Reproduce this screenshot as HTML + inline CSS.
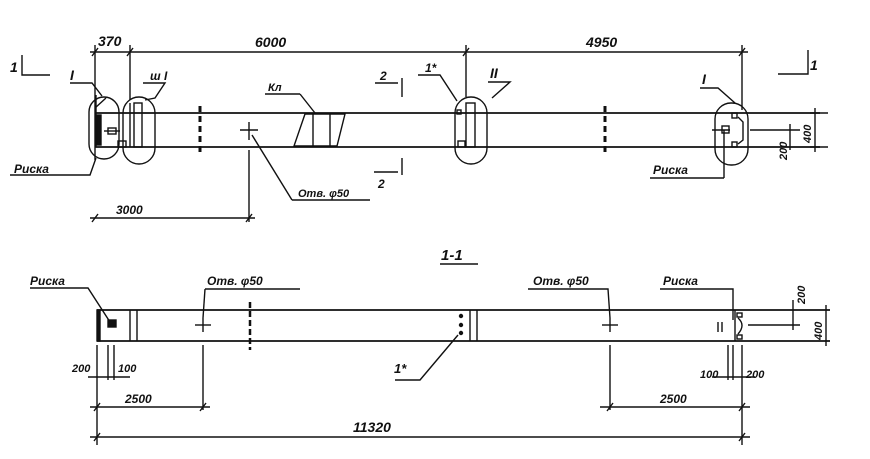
<!DOCTYPE html>
<html><head><meta charset="utf-8"><style>
html,body{margin:0;padding:0;background:#fff}
svg{display:block}
text{font-family:"Liberation Sans",sans-serif;font-weight:bold;font-style:italic;fill:#111}
</style></head><body>
<svg width="870" height="459" viewBox="0 0 870 459" xmlns="http://www.w3.org/2000/svg">
<g stroke="#111" stroke-width="1.4" fill="none">
<!-- TOP VIEW -->
<line x1="95" y1="113" x2="820" y2="113" stroke-width="1.8"/>
<line x1="95" y1="147" x2="820" y2="147" stroke-width="1.8"/>
<line x1="96" y1="95" x2="96" y2="147"/>
<!-- dimension line top -->
<line x1="90" y1="52" x2="748" y2="52"/>
<line x1="95" y1="45" x2="95" y2="160"/>
<line x1="130" y1="45" x2="130" y2="100"/>
<line x1="466" y1="45" x2="466" y2="97"/>
<line x1="742" y1="45" x2="742" y2="110"/>
<line x1="92" y1="56" x2="98" y2="48"/><line x1="127" y1="56" x2="133" y2="48"/>
<line x1="463" y1="56" x2="469" y2="48"/><line x1="739" y1="56" x2="745" y2="48"/>
<!-- section 1 marks -->
<polyline points="22,55 22,75 50,75"/>
<polyline points="808,50 808,74 778,74"/>
<!-- capsules -->
<rect x="89" y="97" width="30" height="62" rx="15"/>
<rect x="123" y="97" width="32" height="67" rx="16"/>
<rect x="455" y="97" width="32" height="67" rx="16"/>
<rect x="715" y="103" width="33" height="62" rx="16"/>
<!-- left end internals -->
<rect x="97" y="115" width="4" height="30" fill="#111"/>
<line x1="104" y1="131" x2="120" y2="131"/>
<rect x="108" y="128" width="8" height="6"/>
<rect x="118" y="141" width="8" height="6"/>
<line x1="130" y1="103" x2="130" y2="147"/>
<rect x="134" y="103" width="8" height="44"/>
<line x1="95" y1="108" x2="106" y2="98"/>
<!-- middle capsule internals -->
<rect x="466" y="103" width="9" height="44"/>
<rect x="457" y="110" width="4" height="4"/>
<rect x="458" y="141" width="7" height="6"/>
<!-- right capsule internals -->
<rect x="732" y="113" width="5" height="5"/><rect x="732" y="142" width="5" height="5"/>
<path d="M738,117 L743,122 L743,140 L738,144"/>
<line x1="712" y1="130" x2="730" y2="130"/><rect x="722" y="126" width="7" height="7"/>
<line x1="724" y1="130" x2="724" y2="178"/>
<line x1="650" y1="178" x2="724" y2="178"/>
<!-- dashed sections -->
<line x1="200" y1="106" x2="200" y2="156" stroke-dasharray="6,4" stroke-width="3"/>
<line x1="605" y1="106" x2="605" y2="155" stroke-dasharray="6,4" stroke-width="3"/>
<!-- hole -->
<line x1="240" y1="130" x2="258" y2="130"/><line x1="249" y1="122" x2="249" y2="140"/>
<line x1="249" y1="150" x2="249" y2="222"/>
<line x1="252" y1="135" x2="292" y2="200"/><line x1="292" y1="200" x2="370" y2="200"/>
<!-- Kl trapezoid -->
<polygon points="305,114 345,114 337,146 294,146"/>
<line x1="313" y1="114" x2="313" y2="146"/><line x1="330" y1="114" x2="330" y2="146"/>
<line x1="265" y1="94" x2="300" y2="94"/><line x1="300" y1="94" x2="315" y2="113"/>
<!-- section 2 -->
<line x1="402" y1="78" x2="402" y2="97"/><line x1="375" y1="83" x2="398" y2="83"/>
<line x1="402" y1="158" x2="402" y2="175"/><line x1="374" y1="172" x2="398" y2="172"/>
<!-- leaders -->
<polyline points="70,83 92,83 102,96"/>
<polyline points="143,83 165,83 155,98 145,100"/>
<polyline points="418,75 440,75 457,101"/>
<polyline points="488,82 510,82 492,98"/>
<polyline points="700,88 718,88 735,103"/>
<polyline points="10,175 90,175 96,158"/>
<!-- 3000 -->
<line x1="90" y1="218" x2="255" y2="218"/>
<line x1="92" y1="222" x2="98" y2="214"/><line x1="246" y1="222" x2="252" y2="214"/>
<!-- right dims -->
<line x1="750" y1="130" x2="800" y2="130"/>
<line x1="790" y1="124" x2="790" y2="150"/>
<line x1="815" y1="108" x2="815" y2="152"/>
<line x1="810" y1="113" x2="828" y2="113"/><line x1="810" y1="147" x2="828" y2="147"/>

<!-- SECTION 1-1 -->
<line x1="440" y1="264" x2="478" y2="264"/>
<line x1="97" y1="310" x2="830" y2="310" stroke-width="1.8"/>
<line x1="97" y1="341" x2="830" y2="341" stroke-width="1.8"/>
<rect x="97" y="310" width="3" height="31" fill="#111"/>
<line x1="130" y1="310" x2="130" y2="341"/><line x1="137" y1="310" x2="137" y2="341"/>
<line x1="250" y1="302" x2="250" y2="350" stroke-dasharray="6,3" stroke-width="2.5"/>
<line x1="470" y1="310" x2="470" y2="341"/><line x1="477" y1="310" x2="477" y2="341"/>
<circle cx="461" cy="316" r="1.5" fill="#111"/><circle cx="461" cy="325" r="1.5" fill="#111"/><circle cx="461" cy="333" r="1.5" fill="#111"/>
<line x1="195" y1="325" x2="211" y2="325"/><line x1="203" y1="318" x2="203" y2="332"/>
<line x1="602" y1="325" x2="618" y2="325"/><line x1="610" y1="318" x2="610" y2="332"/>
<line x1="203" y1="345" x2="203" y2="410"/><line x1="610" y1="345" x2="610" y2="410"/>
<rect x="108" y="320" width="8" height="7" fill="#111"/>
<!-- right end -->
<line x1="735" y1="310" x2="735" y2="341"/>
<rect x="737" y="313" width="5" height="4"/><rect x="737" y="335" width="5" height="4"/>
<path d="M738,318 Q746,325 738,334"/>
<line x1="718" y1="322" x2="718" y2="332"/><line x1="722" y1="322" x2="722" y2="332"/>
<line x1="748" y1="325" x2="800" y2="325"/>
<line x1="793" y1="300" x2="793" y2="330"/>
<line x1="826" y1="305" x2="826" y2="346"/>
<!-- leaders -->
<polyline points="30,288 88,288 110,322"/>
<polyline points="205,289 300,289"/><line x1="205" y1="289" x2="203" y2="318"/>
<polyline points="528,289 608,289 610,318"/>
<polyline points="660,289 733,289 733,320"/>
<polyline points="395,380 420,380 458,335"/>
<!-- bottom dims -->
<line x1="97" y1="345" x2="97" y2="445"/>
<line x1="108" y1="345" x2="108" y2="380"/><line x1="114" y1="345" x2="114" y2="380"/>
<line x1="88" y1="377" x2="130" y2="377"/>
<line x1="728" y1="345" x2="728" y2="380"/><line x1="733" y1="345" x2="733" y2="380"/>
<line x1="742" y1="345" x2="742" y2="445"/>
<line x1="712" y1="377" x2="755" y2="377"/>
<line x1="90" y1="407" x2="210" y2="407"/>
<line x1="600" y1="407" x2="750" y2="407"/>
<line x1="90" y1="437" x2="750" y2="437"/>
<line x1="94" y1="411" x2="100" y2="403"/><line x1="200" y1="411" x2="206" y2="403"/>
<line x1="607" y1="411" x2="613" y2="403"/><line x1="739" y1="411" x2="745" y2="403"/>
<line x1="94" y1="441" x2="100" y2="433"/><line x1="739" y1="441" x2="745" y2="433"/>
</g>
<g font-size="14">
<text x="98" y="46">370</text>
<text x="255" y="47">6000</text>
<text x="586" y="47">4950</text>
<text x="10" y="72">1</text>
<text x="810" y="70">1</text>
<text x="70" y="80">I</text>
<text x="150" y="80" font-size="12">ш I</text>
<text x="425" y="72" font-size="12">1*</text>
<text x="490" y="78">II</text>
<text x="702" y="84">I</text>
<text x="268" y="91" font-size="11">Кл</text>
<text x="380" y="80" font-size="12">2</text>
<text x="378" y="188" font-size="12">2</text>
<text x="14" y="173" font-size="12">Рucка</text>
<text x="653" y="174" font-size="12">Рucка</text>
<text x="298" y="197" font-size="11">Отв. φ50</text>
<text x="116" y="214" font-size="12">3000</text>
<text x="441" y="260" font-size="15">1-1</text>
<text x="30" y="285" font-size="12">Рucка</text>
<text x="207" y="285" font-size="12">Отв. φ50</text>
<text x="533" y="285" font-size="12">Отв. φ50</text>
<text x="663" y="285" font-size="12">Рucка</text>
<text x="394" y="373" font-size="13">1*</text>
<text x="72" y="372" font-size="11">200</text>
<text x="118" y="372" font-size="11">100</text>
<text x="700" y="378" font-size="11">100</text>
<text x="746" y="378" font-size="11">200</text>
<text x="125" y="403" font-size="12">2500</text>
<text x="660" y="403" font-size="12">2500</text>
<text x="353" y="432" font-size="14">11320</text>
</g>
<g font-size="11">
<text transform="translate(811,143) rotate(-90)">400</text>
<text transform="translate(787,160) rotate(-90)">200</text>
<text transform="translate(805,304) rotate(-90)">200</text>
<text transform="translate(822,340) rotate(-90)">400</text>
</g>
</svg>
</body></html>
